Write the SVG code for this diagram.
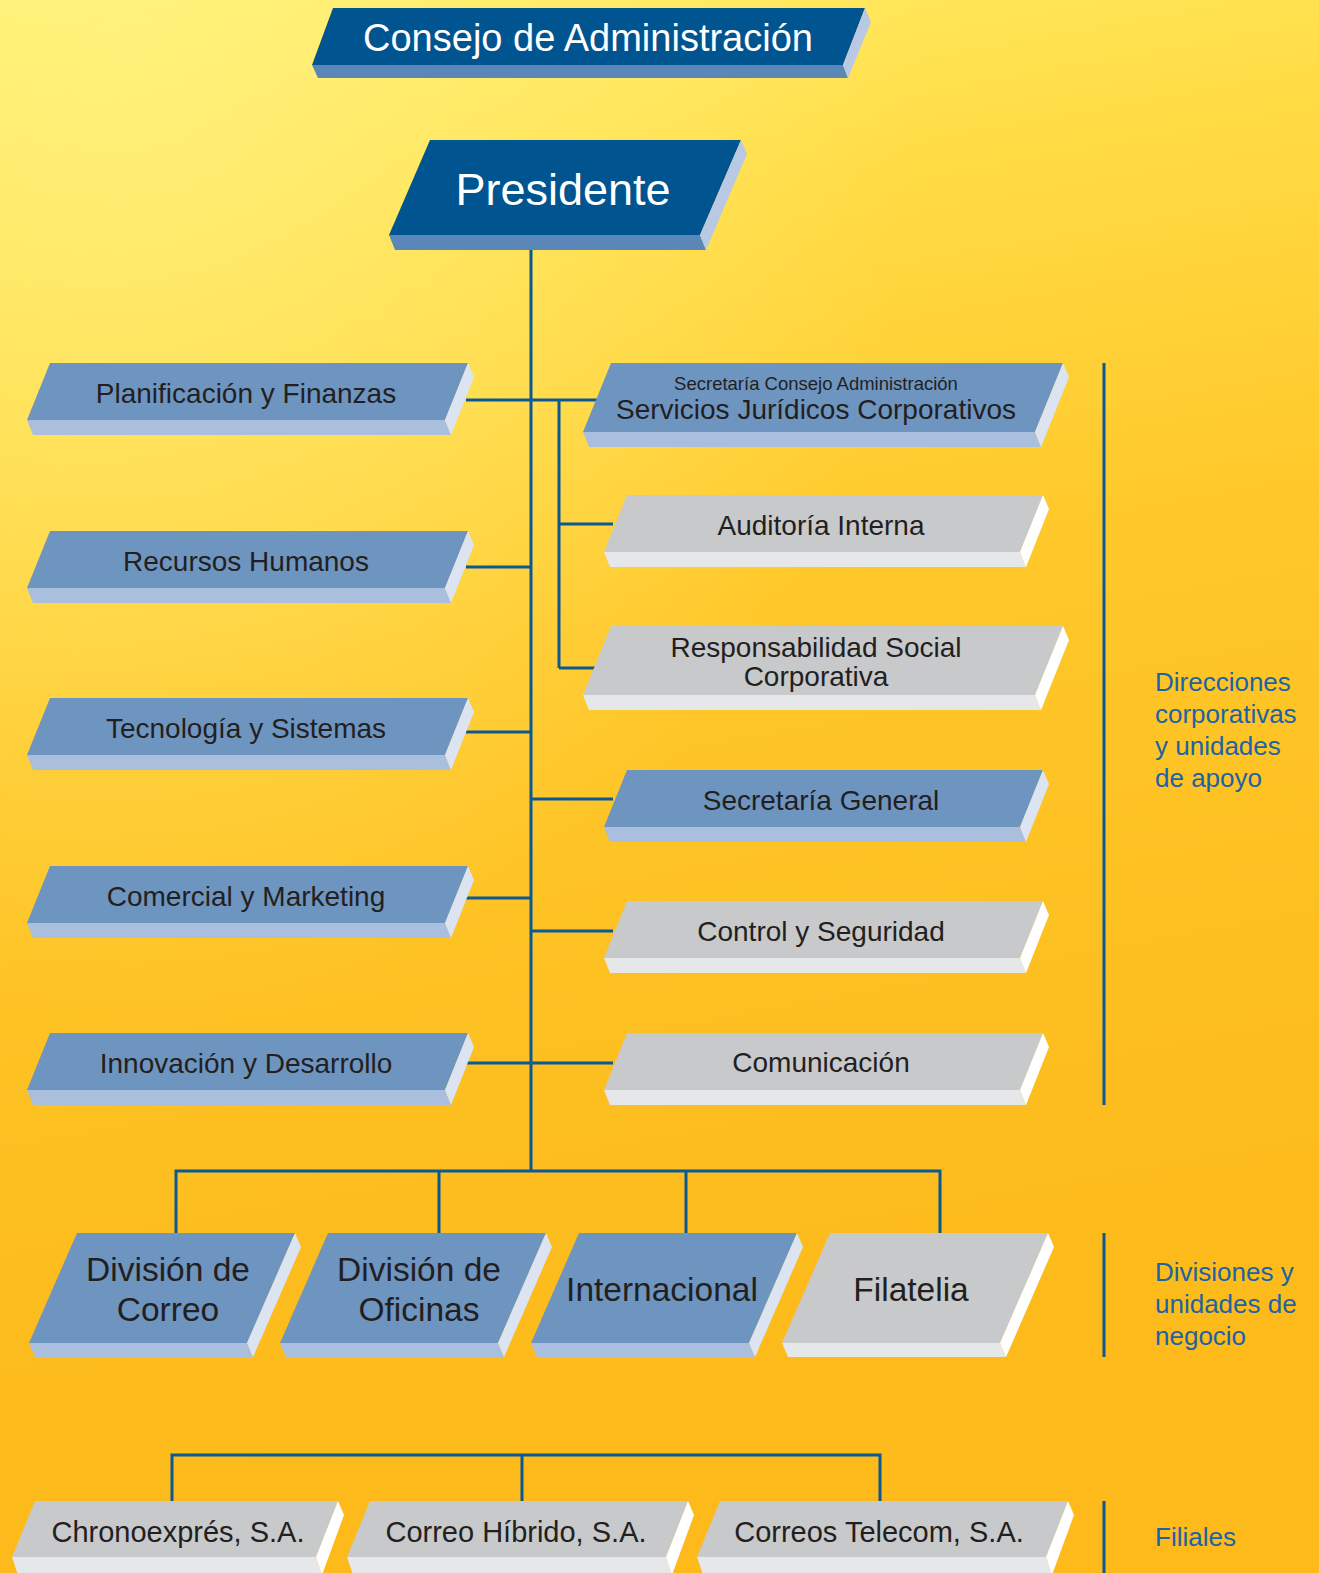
<svg xmlns="http://www.w3.org/2000/svg" width="1319" height="1573" viewBox="0 0 1319 1573">
<defs>
<linearGradient id="bg" x1="0" y1="0" x2="0.15" y2="1">
<stop offset="0" stop-color="#fff06c"/>
<stop offset="0.2" stop-color="#ffdc45"/>
<stop offset="0.45" stop-color="#ffc82a"/>
<stop offset="0.8" stop-color="#fdbd1e"/>
<stop offset="1" stop-color="#fdba1a"/>
</linearGradient>
<radialGradient id="hl" cx="0.1" cy="0.05" r="0.6">
<stop offset="0" stop-color="#fff384" stop-opacity="0.7"/>
<stop offset="1" stop-color="#fff384" stop-opacity="0"/>
</radialGradient>
<style>
.df{fill:#00548f}.db{fill:#5a86b8}.ds{fill:#b9c9e3}
.bf{fill:#6e94c0}.bb{fill:#aabfdd}.bs{fill:#dce4f2}
.gf{fill:#c8c9cb}.gb{fill:#e6e7e8}.gs{fill:#ffffff}
.t{font-family:"Liberation Sans",Arial,sans-serif;fill:#231f20;text-anchor:middle}
.m{font-size:28px}
.w{font-family:"Liberation Sans",Arial,sans-serif;fill:#ffffff;text-anchor:middle}
.lab{font-family:"Liberation Sans",Arial,sans-serif;fill:#1c63a6;font-size:26px}
.c{stroke:#0b5893;stroke-width:3;fill:none}
</style>
</defs>
<rect x="0" y="0" width="1319" height="1573" fill="url(#bg)"/>
<rect x="0" y="0" width="1319" height="1573" fill="url(#hl)"/>

<g id="connectors" class="c">
<line x1="531" y1="250" x2="531" y2="1172"/>
<line x1="466" y1="400" x2="597" y2="400"/>
<line x1="559" y1="400" x2="559" y2="668"/>
<line x1="559" y1="524" x2="613" y2="524"/>
<line x1="559" y1="668" x2="595" y2="668"/>
<line x1="466" y1="567" x2="531" y2="567"/>
<line x1="466" y1="732" x2="531" y2="732"/>
<line x1="531" y1="799" x2="613" y2="799"/>
<line x1="466" y1="898" x2="531" y2="898"/>
<line x1="531" y1="931" x2="613" y2="931"/>
<line x1="466" y1="1063" x2="613" y2="1063"/>
<polyline points="176,1233 176,1171 940,1171 940,1233"/>
<line x1="439" y1="1171" x2="439" y2="1233"/>
<line x1="686" y1="1171" x2="686" y2="1233"/>
<polyline points="172,1501 172,1455 880,1455 880,1501"/>
<line x1="522" y1="1455" x2="522" y2="1501"/>
<line x1="1104" y1="363" x2="1104" y2="1105"/>
<line x1="1104" y1="1233" x2="1104" y2="1357"/>
<line x1="1104" y1="1501" x2="1104" y2="1573"/>
</g>

<g id="consejo">
<polygon class="df" points="333,8 865,8 843,65 312,65"/>
<polygon class="db" points="312,65 843,65 848,78 318,78"/>
<polygon class="ds" points="865,8 871,22 848,78 843,65"/>
<text class="w" x="588" y="51" font-size="38">Consejo de Administración</text>
</g>

<g id="presidente">
<polygon class="df" points="430,140 741,140 700,235 389,235"/>
<polygon class="db" points="389,235 700,235 706,250 395,250"/>
<polygon class="ds" points="741,140 747,154 706,250 700,235"/>
<text class="w" x="563" y="205" font-size="45">Presidente</text>
</g>

<g id="planificacion">
<polygon class="bf" points="50,363 468,363 445,420 27,420"/>
<polygon class="bb" points="27,420 445,420 451,435 33,435"/>
<polygon class="bs" points="468,363 474,377 451,435 445,420"/>
<text class="t m" x="246" y="403">Planificación y Finanzas</text>
</g>
<g id="rrhh">
<polygon class="bf" points="50,531 468,531 445,588 27,588"/>
<polygon class="bb" points="27,588 445,588 451,603 33,603"/>
<polygon class="bs" points="468,531 474,545 451,603 445,588"/>
<text class="t m" x="246" y="571">Recursos Humanos</text>
</g>
<g id="tecnologia">
<polygon class="bf" points="50,698 468,698 445,755 27,755"/>
<polygon class="bb" points="27,755 445,755 451,770 33,770"/>
<polygon class="bs" points="468,698 474,712 451,770 445,755"/>
<text class="t m" x="246" y="738">Tecnología y Sistemas</text>
</g>
<g id="comercial">
<polygon class="bf" points="50,866 468,866 445,923 27,923"/>
<polygon class="bb" points="27,923 445,923 451,938 33,938"/>
<polygon class="bs" points="468,866 474,880 451,938 445,923"/>
<text class="t m" x="246" y="906">Comercial y Marketing</text>
</g>
<g id="innovacion">
<polygon class="bf" points="50,1033 468,1033 445,1090 27,1090"/>
<polygon class="bb" points="27,1090 445,1090 451,1105 33,1105"/>
<polygon class="bs" points="468,1033 474,1047 451,1105 445,1090"/>
<text class="t m" x="246" y="1073">Innovación y Desarrollo</text>
</g>

<g id="servicios">
<polygon class="bf" points="611,363 1063,363 1035,432 583,432"/>
<polygon class="bb" points="583,432 1035,432 1041,447 589,447"/>
<polygon class="bs" points="1063,363 1069,377 1041,447 1035,432"/>
<text class="t" x="816" y="390" font-size="18.5">Secretaría Consejo Administración</text>
<text class="t m" x="816" y="419">Servicios Jurídicos Corporativos</text>
</g>
<g id="auditoria">
<polygon class="gf" points="627,495 1043,495 1020,552 604,552"/>
<polygon class="gb" points="604,552 1020,552 1026,567 610,567"/>
<polygon class="gs" points="1043,495 1049,509 1026,567 1020,552"/>
<text class="t m" x="821" y="535">Auditoría Interna</text>
</g>
<g id="responsabilidad">
<polygon class="gf" points="611,626 1063,626 1035,695 583,695"/>
<polygon class="gb" points="583,695 1035,695 1041,710 589,710"/>
<polygon class="gs" points="1063,626 1069,640 1041,710 1035,695"/>
<text class="t m" x="816" y="657">Responsabilidad Social</text>
<text class="t m" x="816" y="686">Corporativa</text>
</g>
<g id="secretaria">
<polygon class="bf" points="627,770 1043,770 1020,827 604,827"/>
<polygon class="bb" points="604,827 1020,827 1026,842 610,842"/>
<polygon class="bs" points="1043,770 1049,784 1026,842 1020,827"/>
<text class="t m" x="821" y="810">Secretaría General</text>
</g>
<g id="control">
<polygon class="gf" points="627,901 1043,901 1020,958 604,958"/>
<polygon class="gb" points="604,958 1020,958 1026,973 610,973"/>
<polygon class="gs" points="1043,901 1049,915 1026,973 1020,958"/>
<text class="t m" x="821" y="941">Control y Seguridad</text>
</g>
<g id="comunicacion">
<polygon class="gf" points="627,1033 1043,1033 1020,1090 604,1090"/>
<polygon class="gb" points="604,1090 1020,1090 1026,1105 610,1105"/>
<polygon class="gs" points="1043,1033 1049,1047 1026,1105 1020,1090"/>
<text class="t m" x="821" y="1072">Comunicación</text>
</g>

<g id="div-correo">
<polygon class="bf" points="77,1233 295,1233 247,1343 29,1343"/>
<polygon class="bb" points="29,1343 247,1343 253,1357 35,1357"/>
<polygon class="bs" points="295,1233 301,1247 253,1357 247,1343"/>
<text class="t" x="168" y="1281" font-size="33.5">División de</text>
<text class="t" x="168" y="1321" font-size="33.5">Correo</text>
</g>
<g id="div-oficinas">
<polygon class="bf" points="328,1233 546,1233 498,1343 280,1343"/>
<polygon class="bb" points="280,1343 498,1343 504,1357 286,1357"/>
<polygon class="bs" points="546,1233 552,1247 504,1357 498,1343"/>
<text class="t" x="419" y="1281" font-size="33.5">División de</text>
<text class="t" x="419" y="1321" font-size="33.5">Oficinas</text>
</g>
<g id="internacional">
<polygon class="bf" points="579,1233 797,1233 749,1343 531,1343"/>
<polygon class="bb" points="531,1343 749,1343 755,1357 537,1357"/>
<polygon class="bs" points="797,1233 803,1247 755,1357 749,1343"/>
<text class="t" x="662" y="1301" font-size="33.5">Internacional</text>
</g>
<g id="filatelia">
<polygon class="gf" points="830,1233 1048,1233 1000,1343 782,1343"/>
<polygon class="gb" points="782,1343 1000,1343 1006,1357 788,1357"/>
<polygon class="gs" points="1048,1233 1054,1247 1006,1357 1000,1343"/>
<text class="t" x="911" y="1301" font-size="33.5">Filatelia</text>
</g>

<g id="chronoexpres">
<polygon class="gf" points="35,1501 338,1501 316,1557 12,1557"/>
<polygon class="gb" points="12,1557 316,1557 322,1575 18,1575"/>
<polygon class="gs" points="338,1501 344,1515 322,1575 316,1557"/>
<text class="t" x="178" y="1542" font-size="29">Chronoexprés, S.A.</text>
</g>
<g id="correo-hibrido">
<polygon class="gf" points="370,1501 688,1501 666,1557 347,1557"/>
<polygon class="gb" points="347,1557 666,1557 672,1575 353,1575"/>
<polygon class="gs" points="688,1501 694,1515 672,1575 666,1557"/>
<text class="t" x="516" y="1542" font-size="29">Correo Híbrido, S.A.</text>
</g>
<g id="correos-telecom">
<polygon class="gf" points="720,1501 1068,1501 1046,1557 697,1557"/>
<polygon class="gb" points="697,1557 1046,1557 1052,1575 703,1575"/>
<polygon class="gs" points="1068,1501 1074,1515 1052,1575 1046,1557"/>
<text class="t" x="879" y="1542" font-size="29">Correos Telecom, S.A.</text>
</g>

<g id="labels">
<text class="lab" x="1155" y="691">Direcciones</text>
<text class="lab" x="1155" y="723">corporativas</text>
<text class="lab" x="1155" y="755">y unidades</text>
<text class="lab" x="1155" y="787">de apoyo</text>
<text class="lab" x="1155" y="1281">Divisiones y</text>
<text class="lab" x="1155" y="1313">unidades de</text>
<text class="lab" x="1155" y="1345">negocio</text>
<text class="lab" x="1155" y="1546">Filiales</text>
</g>
</svg>
